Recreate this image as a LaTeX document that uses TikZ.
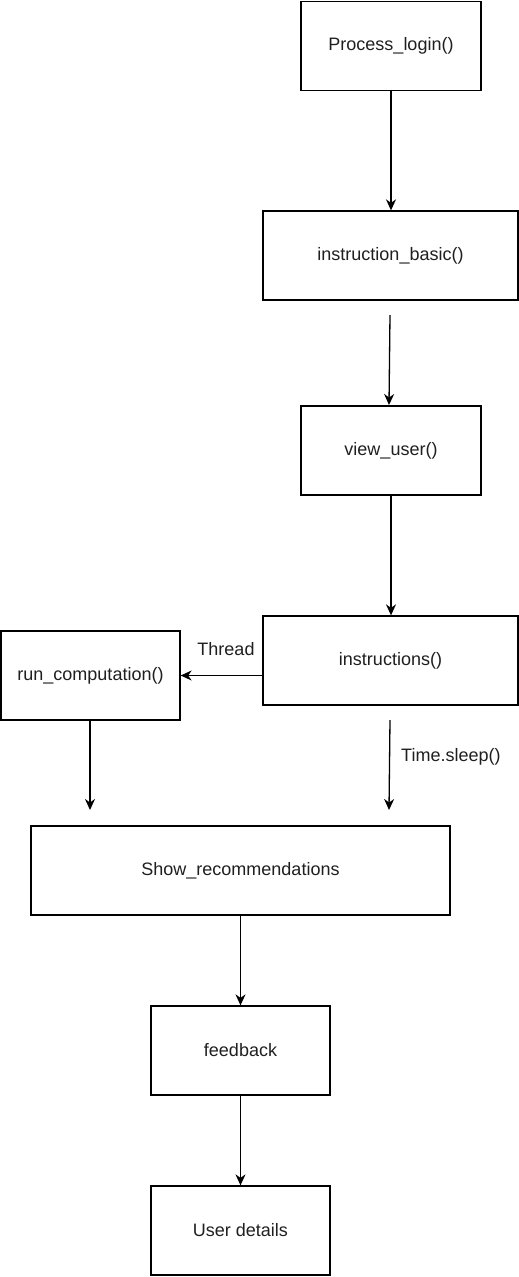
\documentclass[tikz,border=0pt]{standalone}
\usepackage{fontspec}
\setmainfont{Liberation Sans}
\usetikzlibrary{arrows.meta}
\begin{document}
\begin{tikzpicture}[x=1pt,y=-1pt,
  box/.style={draw=black,line width=1.3pt,minimum width=#1,minimum height=89pt,inner sep=0pt,font=\fontsize{18}{21}\selectfont,text=black!88},
  box/.default=180pt,
  conn/.style={draw=black,line width=1.3pt,-{Stealth[length=11pt,width=10pt,inset=3.5pt]}},
  lbl/.style={font=\fontsize{18}{21}\selectfont,text=black!88,inner sep=0pt}]
\useasboundingbox (0,0) rectangle (519,1277);
\node[box=180pt] (login) at (391,46) {Process\_login()};
\node[box=255pt] (basic) at (390.5,255.5) {instruction\_basic()};
\node[box=180pt] (view) at (391,450.5) {view\_user()};
\node[box=255pt] (instr) at (390.5,660.5) {instructions()};
\node[box=179pt] (run) at (90.5,675.5) {run\_computation()};
\node[box=419pt] (show) at (240.5,870.5) {Show\_recommendations};
\node[box=179pt] (fb) at (240.5,1050.5) {feedback};
\node[box=179pt] (ud) at (240.5,1230.5) {User details};
\coordinate (g1) at (390,315);
\coordinate (g2) at (389,405);
\coordinate (r1) at (90,810);
\coordinate (t1) at (390,720);
\coordinate (t2) at (389,810);
\draw[conn] (login.south) -- (basic.north -| login.south);
\draw[conn] (g1) -- (g2);
\draw[conn] (view.south) -- (instr.north -| view.south);
\draw[conn] (instr.west |- run.east) -- (run.east);
\node[lbl] (thr) at (226,649) {Thread};
\draw[conn] (run.south -| r1) -- (r1);
\draw[conn] (t1) -- (t2);
\node[lbl,anchor=west] (ts) at (401,757) {Time.sleep()};
\draw[conn] (show.south) -- (fb.north);
\draw[conn] (fb.south) -- (ud.north);
\end{tikzpicture}
\end{document}
